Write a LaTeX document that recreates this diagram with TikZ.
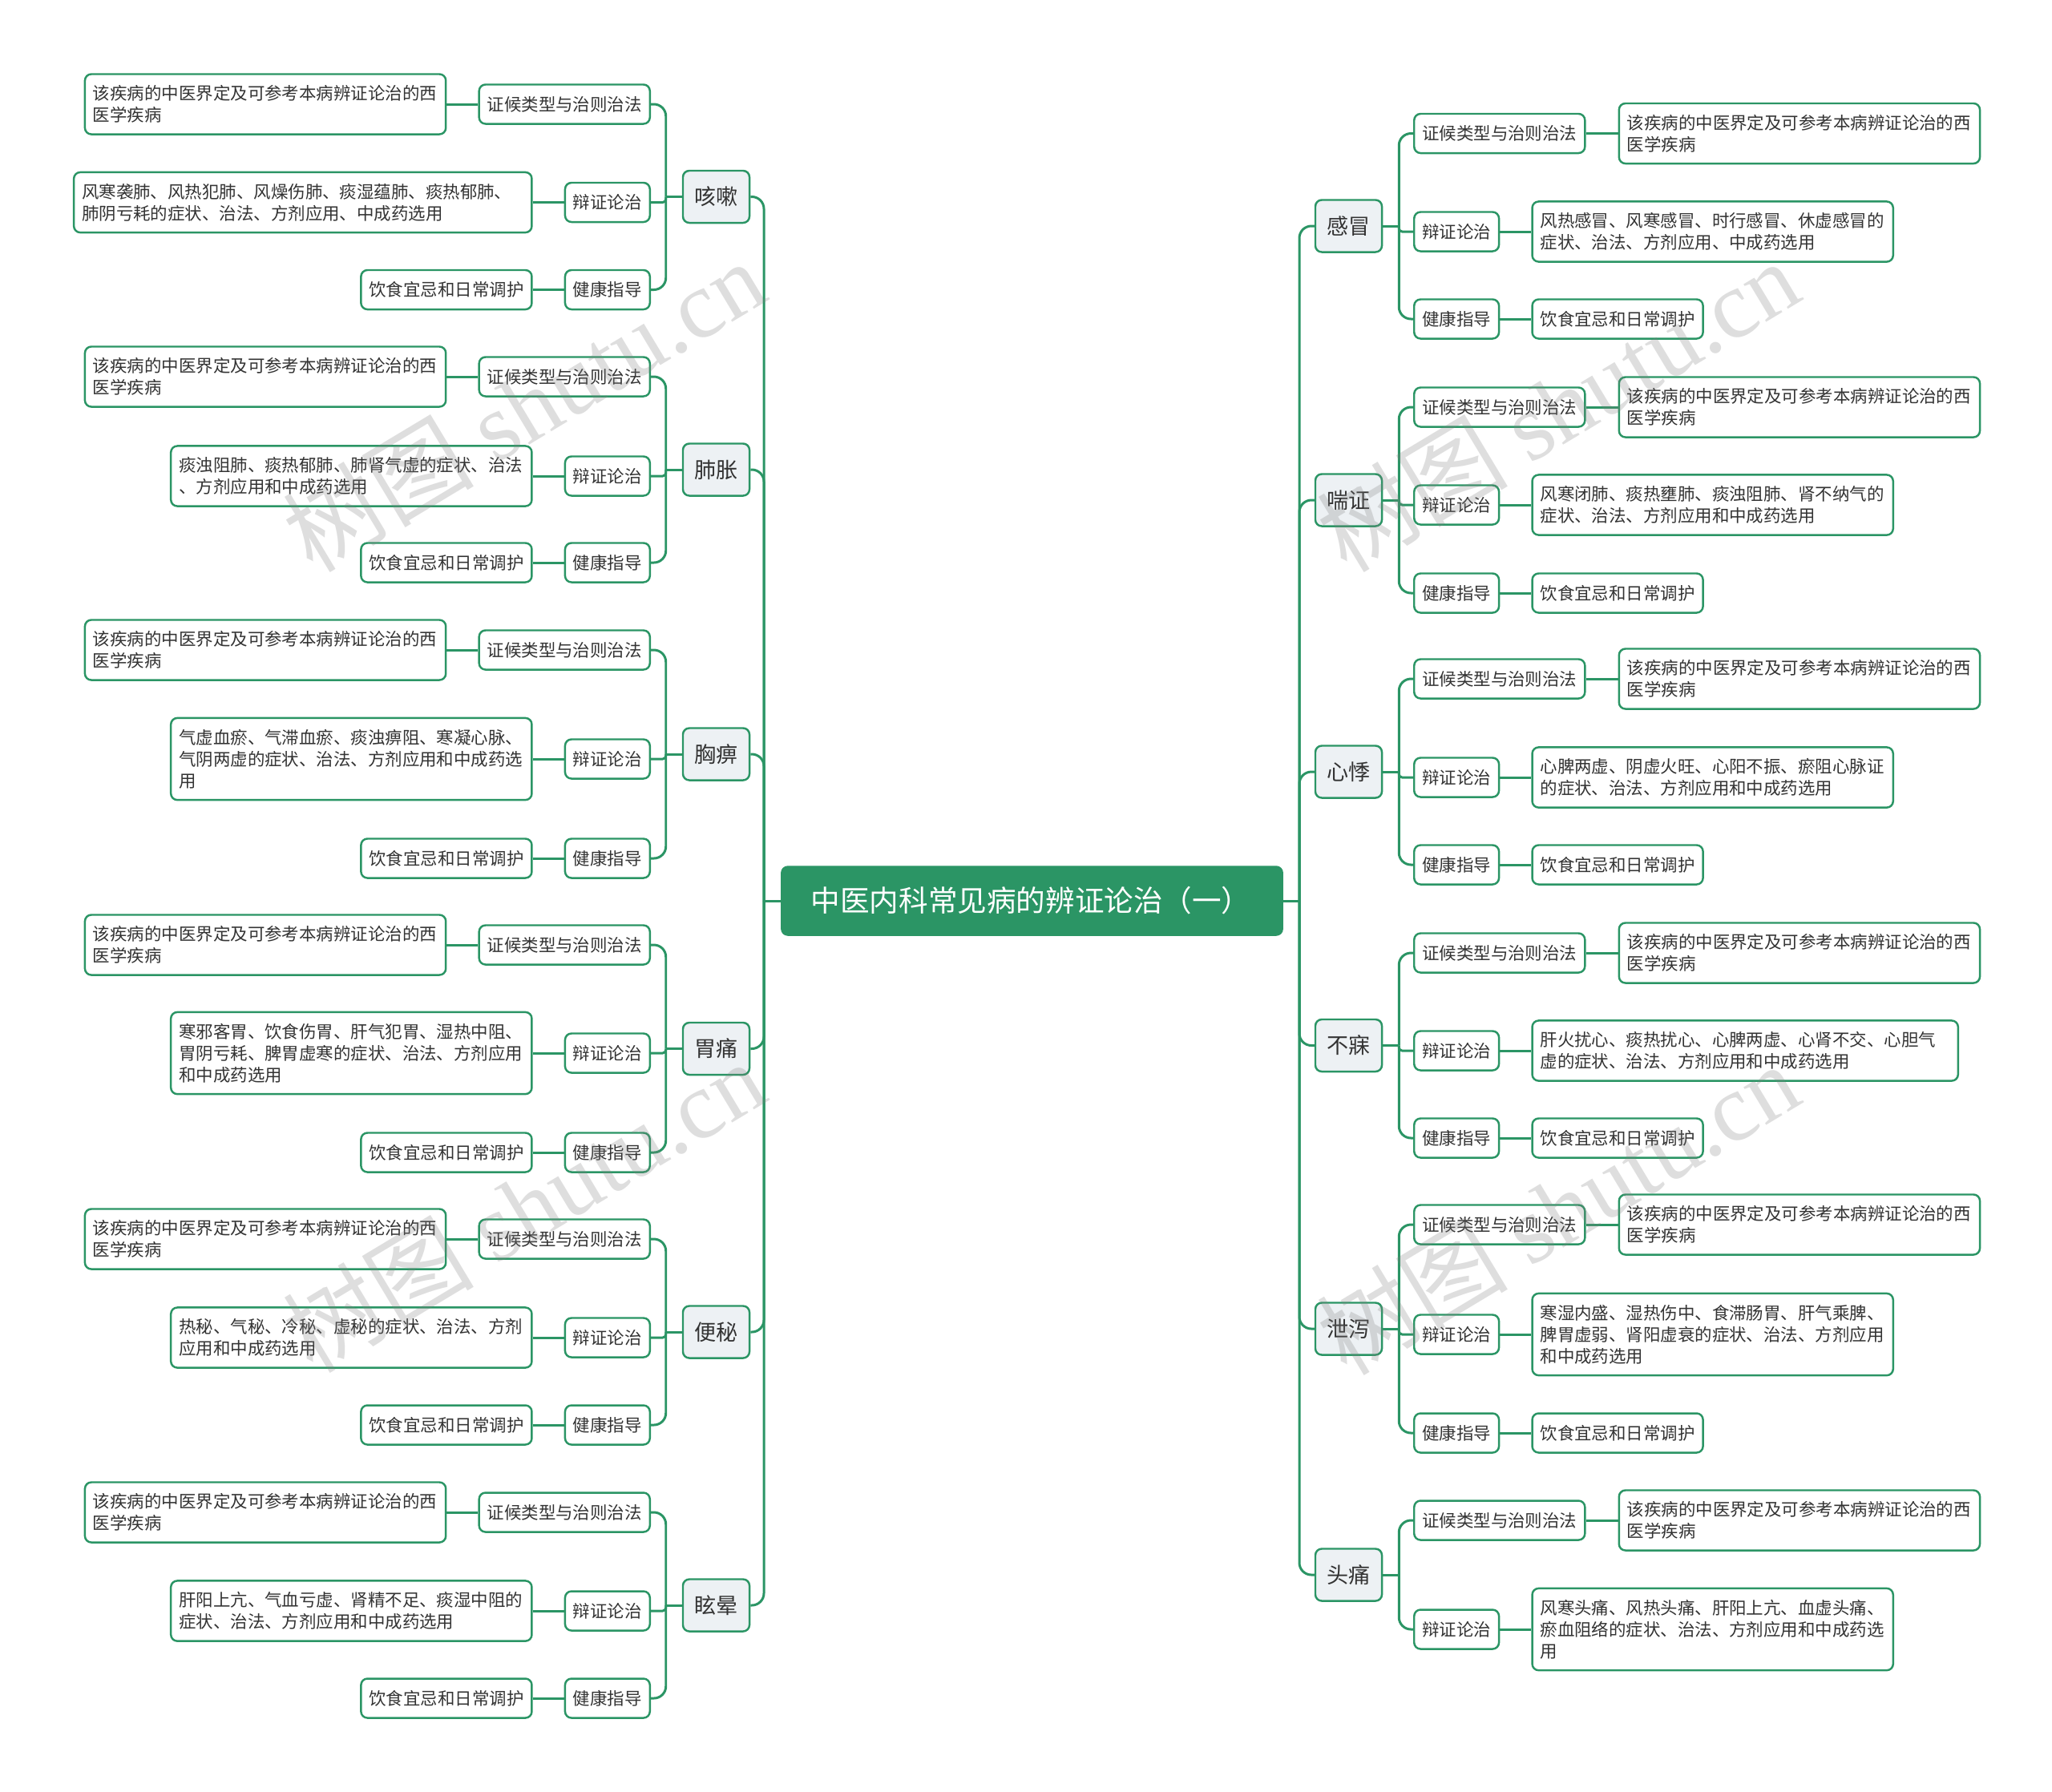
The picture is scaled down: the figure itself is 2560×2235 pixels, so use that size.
\documentclass[tikz,border=0pt]{standalone}
\usepackage{fontspec}
\setmainfont{Noto Sans CJK SC}
\newfontfamily\wmlatin{Liberation Serif}
\usetikzlibrary{positioning}
\definecolor{mmgreen}{HTML}{2B9565}
\definecolor{catfill}{HTML}{EDF1F4}
\definecolor{inkgray}{HTML}{333333}

\begin{document}
\begin{tikzpicture}[x=0.01cm,y=-0.01cm,
  link/.style={draw=mmgreen,line width=0.85pt},
  rootbox/.style={fill=mmgreen,draw=mmgreen,text=white,rounded corners=0.08cm,
    font=\fontsize{10.4pt}{12pt}\selectfont,text width=5.51cm,align=left,
    inner xsep=0.37cm,minimum height=0.86cm},
  catbox/.style={draw=mmgreen,fill=catfill,line width=0.7pt,rounded corners=0.08cm,
    font=\fontsize{7.7pt}{9pt}\selectfont,text=inkgray,inner sep=0pt,
    minimum width=0.83cm,minimum height=0.65cm},
  midbox/.style={draw=mmgreen,fill=white,line width=0.7pt,rounded corners=0.08cm,
    font=\fontsize{6.1pt}{7.7pt}\selectfont,text=inkgray,inner xsep=0.1cm,
    minimum height=0.49cm},
  leafbox/.style={midbox,text width=4.3cm,align=left,inner xsep=0.1cm,inner ysep=0.14cm},
  watermark/.style={text=gray,opacity=0.26,rotate=31,font=\fontsize{34pt}{34pt}\selectfont}]
\useasboundingbox (0,0) rectangle (2560,2235);

\node[rootbox] (root) at (1287.5,1124) {中医内科常见病的辨证论治（一）};

% left side
\node[catbox] (ks) at (893.5,245.5) {咳嗽};
\node[midbox,anchor=east] (ks-a) at (812,130) {证候类型与治则治法};
\node[midbox,anchor=east] (ks-b) at (812,252.5) {辩证论治};
\node[midbox,anchor=east] (ks-c) at (812,361.5) {健康指导};
\node[leafbox,left=0.39cm of ks-a] (ks-a-l) {该疾病的中医界定及可参考本病辨证论治的西\\医学疾病};
\node[leafbox,text width=5.51cm,left=0.39cm of ks-b] (ks-b-l) {风寒袭肺、风热犯肺、风燥伤肺、痰湿蕴肺、痰热郁肺、\\肺阴亏耗的症状、治法、方剂应用、中成药选用};
\node[midbox,left=0.39cm of ks-c] (ks-c-l) {饮食宜忌和日常调护};

\node[catbox] (fz) at (893.5,586) {肺胀};
\node[midbox,anchor=east] (fz-a) at (812,470) {证候类型与治则治法};
\node[midbox,anchor=east] (fz-b) at (812,594) {辩证论治};
\node[midbox,anchor=east] (fz-c) at (812,702) {健康指导};
\node[leafbox,left=0.39cm of fz-a] (fz-a-l) {该疾病的中医界定及可参考本病辨证论治的西\\医学疾病};
\node[leafbox,left=0.39cm of fz-b] (fz-b-l) {痰浊阻肺、痰热郁肺、肺肾气虚的症状、治法\\、方剂应用和中成药选用};
\node[midbox,left=0.39cm of fz-c] (fz-c-l) {饮食宜忌和日常调护};

\node[catbox] (xb) at (893.5,941) {胸痹};
\node[midbox,anchor=east] (xb-a) at (812,811) {证候类型与治则治法};
\node[midbox,anchor=east] (xb-b) at (812,947) {辩证论治};
\node[midbox,anchor=east] (xb-c) at (812,1071) {健康指导};
\node[leafbox,left=0.39cm of xb-a] (xb-a-l) {该疾病的中医界定及可参考本病辨证论治的西\\医学疾病};
\node[leafbox,left=0.39cm of xb-b] (xb-b-l) {气虚血瘀、气滞血瘀、痰浊痹阻、寒凝心脉、\\气阴两虚的症状、治法、方剂应用和中成药选\\用};
\node[midbox,left=0.39cm of xb-c] (xb-c-l) {饮食宜忌和日常调护};

\node[catbox] (wt) at (893.5,1308.5) {胃痛};
\node[midbox,anchor=east] (wt-a) at (812,1179) {证候类型与治则治法};
\node[midbox,anchor=east] (wt-b) at (812,1314) {辩证论治};
\node[midbox,anchor=east] (wt-c) at (812,1438) {健康指导};
\node[leafbox,left=0.39cm of wt-a] (wt-a-l) {该疾病的中医界定及可参考本病辨证论治的西\\医学疾病};
\node[leafbox,left=0.39cm of wt-b] (wt-b-l) {寒邪客胃、饮食伤胃、肝气犯胃、湿热中阻、\\胃阴亏耗、脾胃虚寒的症状、治法、方剂应用\\和中成药选用};
\node[midbox,left=0.39cm of wt-c] (wt-c-l) {饮食宜忌和日常调护};

\node[catbox] (bm) at (893.5,1662) {便秘};
\node[midbox,anchor=east] (bm-a) at (812,1546) {证候类型与治则治法};
\node[midbox,anchor=east] (bm-b) at (812,1669) {辩证论治};
\node[midbox,anchor=east] (bm-c) at (812,1778) {健康指导};
\node[leafbox,left=0.39cm of bm-a] (bm-a-l) {该疾病的中医界定及可参考本病辨证论治的西\\医学疾病};
\node[leafbox,left=0.39cm of bm-b] (bm-b-l) {热秘、气秘、冷秘、虚秘的症状、治法、方剂\\应用和中成药选用};
\node[midbox,left=0.39cm of bm-c] (bm-c-l) {饮食宜忌和日常调护};

\node[catbox] (xy) at (893.5,2003) {眩晕};
\node[midbox,anchor=east] (xy-a) at (812,1887) {证候类型与治则治法};
\node[midbox,anchor=east] (xy-b) at (812,2010) {辩证论治};
\node[midbox,anchor=east] (xy-c) at (812,2119) {健康指导};
\node[leafbox,left=0.39cm of xy-a] (xy-a-l) {该疾病的中医界定及可参考本病辨证论治的西\\医学疾病};
\node[leafbox,left=0.39cm of xy-b] (xy-b-l) {肝阳上亢、气血亏虚、肾精不足、痰湿中阻的\\症状、治法、方剂应用和中成药选用};
\node[midbox,left=0.39cm of xy-c] (xy-c-l) {饮食宜忌和日常调护};

% right side
\node[catbox] (gm) at (1682.5,282) {感冒};
\node[midbox,anchor=west] (gm-a) at (1763,166.5) {证候类型与治则治法};
\node[midbox,anchor=west] (gm-b) at (1763,289) {辩证论治};
\node[midbox,anchor=west] (gm-c) at (1763,398) {健康指导};
\node[leafbox,right=0.4cm of gm-a] (gm-a-l) {该疾病的中医界定及可参考本病辨证论治的西\\医学疾病};
\node[leafbox,right=0.39cm of gm-b] (gm-b-l) {风热感冒、风寒感冒、时行感冒、休虚感冒的\\症状、治法、方剂应用、中成药选用};
\node[midbox,right=0.39cm of gm-c] (gm-c-l) {饮食宜忌和日常调护};

\node[catbox] (cz) at (1682.5,624) {喘证};
\node[midbox,anchor=west] (cz-a) at (1763,508) {证候类型与治则治法};
\node[midbox,anchor=west] (cz-b) at (1763,630) {辩证论治};
\node[midbox,anchor=west] (cz-c) at (1763,740) {健康指导};
\node[leafbox,right=0.4cm of cz-a] (cz-a-l) {该疾病的中医界定及可参考本病辨证论治的西\\医学疾病};
\node[leafbox,right=0.39cm of cz-b] (cz-b-l) {风寒闭肺、痰热壅肺、痰浊阻肺、肾不纳气的\\症状、治法、方剂应用和中成药选用};
\node[midbox,right=0.39cm of cz-c] (cz-c-l) {饮食宜忌和日常调护};

\node[catbox] (xj) at (1682.5,963) {心悸};
\node[midbox,anchor=west] (xj-a) at (1763,847) {证候类型与治则治法};
\node[midbox,anchor=west] (xj-b) at (1763,970) {辩证论治};
\node[midbox,anchor=west] (xj-c) at (1763,1079) {健康指导};
\node[leafbox,right=0.4cm of xj-a] (xj-a-l) {该疾病的中医界定及可参考本病辨证论治的西\\医学疾病};
\node[leafbox,right=0.39cm of xj-b] (xj-b-l) {心脾两虚、阴虚火旺、心阳不振、瘀阻心脉证\\的症状、治法、方剂应用和中成药选用};
\node[midbox,right=0.39cm of xj-c] (xj-c-l) {饮食宜忌和日常调护};

\node[catbox] (bmei) at (1682.5,1304.5) {不寐};
\node[midbox,anchor=west] (bmei-a) at (1763,1189) {证候类型与治则治法};
\node[midbox,anchor=west] (bmei-b) at (1763,1311) {辩证论治};
\node[midbox,anchor=west] (bmei-c) at (1763,1420) {健康指导};
\node[leafbox,right=0.4cm of bmei-a] (bmei-a-l) {该疾病的中医界定及可参考本病辨证论治的西\\医学疾病};
\node[leafbox,text width=5.11cm,right=0.39cm of bmei-b] (bmei-b-l) {肝火扰心、痰热扰心、心脾两虚、心肾不交、心胆气\\虚的症状、治法、方剂应用和中成药选用};
\node[midbox,right=0.39cm of bmei-c] (bmei-c-l) {饮食宜忌和日常调护};

\node[catbox] (xx) at (1682.5,1658) {泄泻};
\node[midbox,anchor=west] (xx-a) at (1763,1528) {证候类型与治则治法};
\node[midbox,anchor=west] (xx-b) at (1763,1665) {辩证论治};
\node[midbox,anchor=west] (xx-c) at (1763,1788) {健康指导};
\node[leafbox,right=0.4cm of xx-a] (xx-a-l) {该疾病的中医界定及可参考本病辨证论治的西\\医学疾病};
\node[leafbox,right=0.39cm of xx-b] (xx-b-l) {寒湿内盛、湿热伤中、食滞肠胃、肝气乘脾、\\脾胃虚弱、肾阳虚衰的症状、治法、方剂应用\\和中成药选用};
\node[midbox,right=0.39cm of xx-c] (xx-c-l) {饮食宜忌和日常调护};

\node[catbox] (tt) at (1682.5,1965) {头痛};
\node[midbox,anchor=west] (tt-a) at (1763,1897) {证候类型与治则治法};
\node[midbox,anchor=west] (tt-b) at (1763,2033) {辩证论治};
\node[leafbox,right=0.4cm of tt-a] (tt-a-l) {该疾病的中医界定及可参考本病辨证论治的西\\医学疾病};
\node[leafbox,right=0.39cm of tt-b] (tt-b-l) {风寒头痛、风热头痛、肝阳上亢、血虚头痛、\\瘀血阻络的症状、治法、方剂应用和中成药选\\用};

% connectors
\draw[link] (root.west) -- (953,1124) coordinate (trunkL);
\draw[link] (root.east) -- (1621,1124) coordinate (trunkR);
\foreach \c in {ks,fz,xb,wt,bm,xy}{
  \draw[link,rounded corners=0.15cm] (trunkL) |- (\c.east);
  \draw[link] (\c.west) -- ++(-20,0) coordinate (\c-j);
  \draw[link,rounded corners=0.15cm] (\c-j) |- (\c-a.east);
  \draw[link,rounded corners=0.04cm] (\c-j) |- (\c-b.east);
  \draw[link,rounded corners=0.15cm] (\c-j) |- (\c-c.east);
  \foreach \m in {a,b,c} \draw[link] (\c-\m.west) -- (\c-\m-l.east);
}
\foreach \c in {gm,cz,xj,bmei,xx}{
  \draw[link,rounded corners=0.15cm] (trunkR) |- (\c.west);
  \draw[link] (\c.east) -- ++(20,0) coordinate (\c-j);
  \draw[link,rounded corners=0.15cm] (\c-j) |- (\c-a.west);
  \draw[link,rounded corners=0.04cm] (\c-j) |- (\c-b.west);
  \draw[link,rounded corners=0.15cm] (\c-j) |- (\c-c.west);
  \foreach \m in {a,b,c} \draw[link] (\c-\m.east) -- (\c-\m-l.west);
}
\draw[link,rounded corners=0.15cm] (trunkR) |- (tt.west);
\draw[link] (tt.east) -- ++(20,0) coordinate (tt-j);
\foreach \m in {a,b}{
  \draw[link,rounded corners=0.15cm] (tt-j) |- (tt-\m.west);
  \draw[link] (tt-\m.east) -- (tt-\m-l.west);
}

% watermark
\foreach \wx/\wy in {653/506,653/1505,1943/506,1943/1508}
  \node[watermark] at (\wx,\wy) {树图 {\wmlatin shutu.cn}};
\end{tikzpicture}
\end{document}
